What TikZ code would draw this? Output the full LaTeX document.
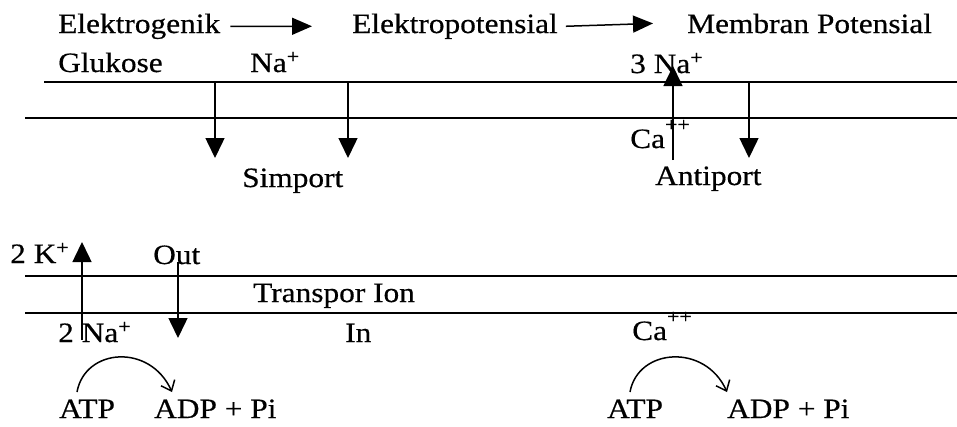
\documentclass[tikz,border=0pt]{standalone}
\usepackage{fontspec}
\setmainfont{Liberation Serif}[FakeStretch=1.12,FakeBold=0.5]
\usetikzlibrary{arrows.meta}
\newcommand{\plusplus}{\raisebox{8pt}{\textsuperscript{++}}}
\begin{document}
\begin{tikzpicture}[x=1pt,y=-1pt,
  lbl/.style={anchor=base west,inner sep=0pt,font=\fontsize{28}{32}\selectfont},
  memline/.style={line width=1.8pt},
  harr/.style={line width=1.5pt,-{Triangle[length=20pt,width=17pt]}},
  varr/.style={line width=1.5pt,-{Triangle[length=20pt,width=19pt]}},
  carr/.style={line width=1.5pt,-{Straight Barb[length=9pt,width=15pt,line width=1.5pt]}}]
\useasboundingbox (0,0) rectangle (957,426);
% texts
\node[lbl] (elg) at (58,33) {Elektrogenik};
\node[lbl] (elp) at (352,33) {Elektropotensial};
\node[lbl] (mem) at (687,33) {Membran Potensial};
\node[lbl] (glu) at (58,72) {Glukose};
\node[lbl] (na1) at (250,72) {Na\textsuperscript{+}};
\node[lbl] (na3) at (630,73) {3 Na\textsuperscript{+}};
\node[lbl] (sim) at (242,187) {Simport};
\node[lbl] (ca1) at (630,148) {Ca\plusplus};
\node[lbl] (ant) at (655,185) {Antiport};
\node[lbl] (k2) at (10,263) {2 K\textsuperscript{+}};
\node[lbl] (out) at (153,264) {Out};
\node[lbl] (tri) at (253,302) {Transpor Ion};
\node[lbl] (na2) at (58,342) {2 Na\textsuperscript{+}};
\node[lbl] (in) at (345,342) {In};
\node[lbl] (ca2) at (632,340) {Ca\plusplus};
\node[lbl] (atp1) at (59,418) {ATP};
\node[lbl] (adp1) at (154,418) {ADP + Pi};
\node[lbl] (atp2) at (607,418) {ATP};
\node[lbl] (adp2) at (727,418) {ADP + Pi};
% flow arrows
\draw[harr] ([xshift=10pt]elg.east) -- ([xshift=-40pt]elp.west);
\draw[harr] ([xshift=8pt]elp.east) -- ([xshift=-34pt]mem.west);
% membranes
\coordinate (m1a) at (44,82);  \coordinate (m1b) at (957,82);
\coordinate (m2a) at (25,118); \coordinate (m2b) at (957,118);
\coordinate (m3a) at (25,276); \coordinate (m3b) at (957,276);
\coordinate (m4a) at (25,313); \coordinate (m4b) at (957,313);
\draw[memline] (m1a) -- (m1b);
\draw[memline] (m2a) -- (m2b);
\draw[memline] (m3a) -- (m3b);
\draw[memline] (m4a) -- (m4b);
% transport arrows top
\coordinate (s1a) at (215,82);  \coordinate (s1b) at (215,158);
\coordinate (s2a) at (348,82);  \coordinate (s2b) at (348,158);
\coordinate (a1a) at (673,160); \coordinate (a1b) at (673,66);
\coordinate (a2a) at (749,82);  \coordinate (a2b) at (749,158);
\draw[varr] (s1a) -- (s1b);
\draw[varr] (s2a) -- (s2b);
\draw[varr] (a1a) -- (a1b);
\draw[varr] (a2a) -- (a2b);
% transport arrows bottom
\coordinate (p1a) at (82,340);  \coordinate (p1b) at (82,242);
\coordinate (p2a) at (178,262); \coordinate (p2b) at (178,338);
\draw[varr] (p1a) -- (p1b);
\draw[varr] (p2a) -- (p2b);
% ATP curved arrows
\coordinate (c1a) at (77,392);  \coordinate (c1b) at (172,392);
\coordinate (c2a) at (630,392); \coordinate (c2b) at (727,392);
\draw[carr] (c1a) .. controls (85,348) and (150,343) .. (c1b);
\draw[carr] (c2a) .. controls (638,348) and (705,343) .. (c2b);
\end{tikzpicture}
\end{document}
